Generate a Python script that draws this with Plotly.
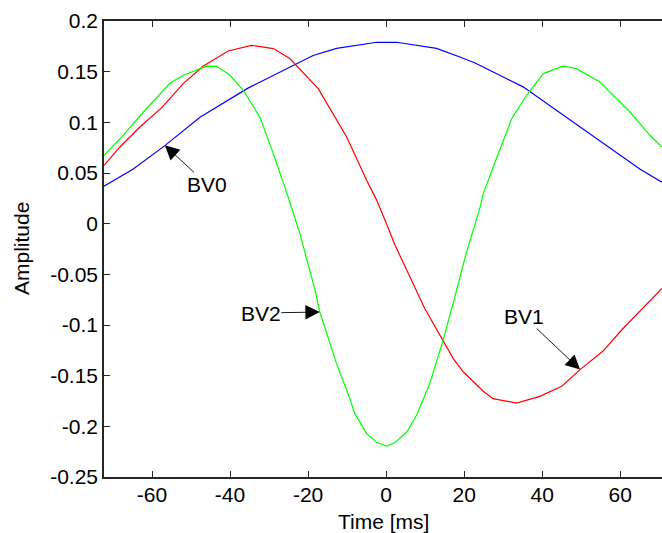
import plotly.graph_objects as go

# Basis vectors sampled along the time axis (ms)
t_bv0 = [-72.3, -64.8, -56.7, -47.7, -35.3, -27.2, -18.7, -12.7, -2.4, 2.7,
         12.9, 18.9, 22.8, 35.1, 47.9, 65.0, 70.7]
bv0 = [0.037, 0.054, 0.077, 0.105, 0.134, 0.150, 0.166, 0.173, 0.179, 0.179,
       0.173, 0.1645, 0.1586, 0.135, 0.100, 0.054, 0.041]

t_bv1 = [-72.3, -68.2, -63.1, -57.5, -52.0, -46.9, -40.5, -34.5, -28.9, -24.7,
         -17.4, -10.1, -5.0, -2.4, 0.1, 2.3, 9.9, 14.6, 17.2, 19.8, 24.9, 27.4,
         33.4, 39.4, 45.0, 49.7, 55.6, 60.3, 70.7]
bv1 = [0.0576, 0.0757, 0.0954, 0.1145, 0.1382, 0.1553, 0.1704, 0.176, 0.1728,
       0.1629, 0.1333, 0.0855, 0.0428, 0.023, 0.0, -0.0213, -0.0838, -0.1151,
       -0.1332, -0.1464, -0.1654, -0.1727, -0.177, -0.1704, -0.1605, -0.144,
       -0.1257, -0.1052, -0.0638]

t_bv2 = [-72.3, -67.4, -62.2, -55.4, -52.0, -46.0, -43.4, -40.0, -36.6, -32.3,
         -28.9, -25.1, -22.1, -18.2, -17.0, -15.2, -12.7, -9.3, -8.0, -5.0, -2.4,
         0.1, 2.3, 5.3, 7.8, 11.2, 14.6, 17.6, 20.6, 24.0, 24.9, 28.3, 32.2, 36.0,
         40.3, 45.4, 48.8, 54.8, 62.5, 67.6, 70.7]
bv2 = [0.0675, 0.0872, 0.1102, 0.1385, 0.1464, 0.1555, 0.1553, 0.1464, 0.1316,
       0.1047, 0.0691, 0.0263, -0.0098, -0.0658, -0.0872, -0.1085, -0.1381,
       -0.1727, -0.1875, -0.2072, -0.216, -0.2194, -0.216, -0.2056, -0.1891,
       -0.1578, -0.1151, -0.0724, -0.028, 0.0149, 0.0297, 0.0645, 0.1037, 0.1267,
       0.1481, 0.1556, 0.153, 0.1398, 0.1102, 0.0872, 0.0757]

x_ticks = [-60, -40, -20, 0, 20, 40, 60]
x_tick_text = ["-60", "-40", "-20", "0", "20", "40", "60"]
y_ticks = [-0.25, -0.2, -0.15, -0.1, -0.05, 0, 0.05, 0.1, 0.15, 0.2]
y_tick_text = ["-0.25", "-0.2", "-0.15", "-0.1", "-0.05", "0", "0.05", "0.1", "0.15", "0.2"]

# Labelled points: (name, time, amplitude, label offset in px)
labels = [("BV0", -56.7, 0.0773, 42, 39),
          ("BV2", -17.0, -0.0872, -59, 1),
          ("BV1", 49.7, -0.144, -56, -53)]

FONT = "Liberation Sans, Arial, Helvetica, sans-serif"
AXIS_COLOR = "#262626"

fig = go.Figure()
fig.add_trace(go.Scatter(x=t_bv0, y=bv0, mode="lines", line=dict(color="#0000ff", width=1.2)))
fig.add_trace(go.Scatter(x=t_bv1, y=bv1, mode="lines", line=dict(color="#ff0000", width=1.2)))
fig.add_trace(go.Scatter(x=t_bv2, y=bv2, mode="lines", line=dict(color="#00ff00", width=1.2)))

for name, tx, vy, ax, ay in labels:
    fig.add_annotation(x=tx, y=vy, ax=ax, ay=ay, text=name, showarrow=True,
                       arrowhead=2, arrowsize=3.2, arrowwidth=0.9, arrowcolor="black",
                       standoff=0, borderpad=0,
                       font=dict(family=FONT, size=21, color="black"))

fig.add_annotation(text="Amplitude", x=-0.1487, y=0.5, xref="paper", yref="paper",
                   textangle=-90, showarrow=False, xanchor="center", yanchor="middle",
                   font=dict(family=FONT, size=21, color="black"))
fig.add_annotation(text="Time [ms]", x=0.5, y=-0.0965, xref="paper", yref="paper",
                   showarrow=False, xanchor="center", yanchor="middle",
                   font=dict(family=FONT, size=21, color="black"))

x_range = [-72.3, 70.7]
fig.update_layout(
    width=662, height=533,
    margin=dict(l=104, r=0, t=21, b=56),
    paper_bgcolor="white", plot_bgcolor="white",
    showlegend=False,
    font=dict(family=FONT, size=21, color="black"),
    xaxis=dict(range=x_range, tickvals=x_ticks, ticktext=x_tick_text,
               ticks="inside", ticklen=6, tickwidth=1, tickcolor=AXIS_COLOR,
               showline=True, linecolor=AXIS_COLOR, linewidth=1.5,
               showgrid=False, zeroline=False, ticklabelstandoff=-2),
    xaxis2=dict(range=x_range, tickvals=x_ticks, overlaying="x", side="top",
                ticks="inside", ticklen=6, tickwidth=1, tickcolor=AXIS_COLOR,
                showline=True, linecolor=AXIS_COLOR, linewidth=1.5,
                showticklabels=False, showgrid=False, zeroline=False),
    yaxis=dict(range=[-0.25, 0.2], tickvals=y_ticks, ticktext=y_tick_text,
               ticks="inside", ticklen=6, tickwidth=1, tickcolor=AXIS_COLOR,
               showline=True, linecolor=AXIS_COLOR, linewidth=1.5,
               showgrid=False, zeroline=False, ticklabelstandoff=0),
)
# invisible trace so the top axis is drawn
fig.add_trace(go.Scatter(x=[x_range[0]], y=[0], xaxis="x2", mode="markers",
                         marker=dict(opacity=0), hoverinfo="skip"))

fig.write_html("out.html")
